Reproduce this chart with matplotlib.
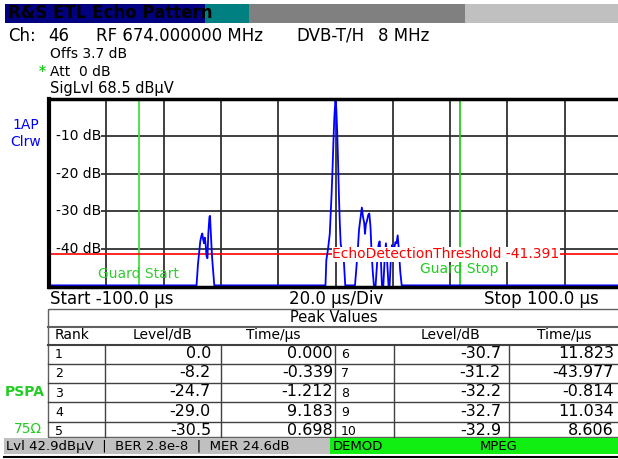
"""R&S ETL echo pattern screen, redrawn with matplotlib."""

import matplotlib
matplotlib.use("Agg")
import matplotlib.pyplot as plt
from matplotlib.patches import Rectangle

# trace (time in us, level in dB)
TIME_US = [
    -100.0, -48.5, -48.0, -47.6, -47.2, -46.8, -46.5, -46.2, -45.9, -45.6,
    -45.3, -45.0, -44.7, -44.4, -44.0, -43.8, -43.5, -43.1, -42.7, -42.3,
    -3.5, -3.2, -2.9, -2.6, -2.3, -2.0, -1.7, -1.4, -1.0, -0.7,
    -0.4, 0.0, 0.3, 0.6, 0.9, 1.2, 1.5, 1.8, 2.1, 2.5,
    2.9, 3.4, 6.8, 7.3, 7.8, 8.2, 8.6, 9.2, 9.6, 10.0,
    10.3, 10.6, 11.0, 11.4, 11.8, 12.2, 12.6, 13.0, 13.4, 14.0,
    14.5, 15.0, 15.4, 15.8, 16.2, 16.7, 17.2, 17.6, 18.0, 18.5,
    18.9, 19.3, 19.7, 20.0, 20.4, 20.9, 21.3, 21.7, 22.1, 22.6,
    23.1, 100.0,
]
LEVEL_DB = [
    -49.7, -49.7, -44.0, -41.0, -38.0, -36.5, -35.9, -37.5, -38.5, -37.0,
    -39.0, -42.0, -42.5, -36.0, -31.5, -31.2, -36.0, -42.0, -46.0, -49.7,
    -49.7, -43.0, -41.5, -40.0, -38.0, -36.0, -31.0, -26.0, -18.0, -11.0,
    -5.0, 0.0, -3.0, -9.0, -17.0, -26.0, -33.0, -38.5, -40.0, -40.5,
    -43.0, -49.7, -49.7, -45.0, -40.0, -35.0, -32.5, -29.0, -31.5, -33.0,
    -36.0, -33.5, -32.5, -31.0, -30.6, -34.0, -41.0, -46.0, -49.7, -49.7,
    -44.0, -39.0, -38.0, -42.0, -49.7, -49.7, -42.0, -38.5, -43.0, -49.7,
    -49.7, -43.0, -39.0, -40.0, -40.4, -38.2, -38.5, -36.4, -40.0, -46.0,
    -49.7, -49.7,
]

Y_TICKS = [-10, -20, -30, -40]
GUARD_START_US = -68.6
GUARD_STOP_US = 43.3
THRESHOLD_DB = -41.391

PEAK_RANK = [1, 2, 3, 4, 5, 6, 7, 8, 9, 10]
PEAK_LEVEL_DB = [0.0, -8.2, -24.7, -29.0, -30.5, -30.7, -31.2, -32.2, -32.7, -32.9]
PEAK_TIME_US = [0.000, -0.339, -1.212, 9.183, 0.698, 11.823, -43.977, -0.814, 11.034, 8.606]

W, H = 618, 459
NAVY = "#000080"
TEAL = "#008080"
BLUE = "#0000ff"
RED = "#ff0000"
GREEN = "#22cc22"
GRID = "#303030"

fig = plt.figure(figsize=(W / 100, H / 100), dpi=100)

# screen axes in pixel units for the instrument chrome
scr = fig.add_axes([0, 0, 1, 1], zorder=0)
scr.set_xlim(0, W)
scr.set_ylim(H, 0)
scr.axis("off")

# title bar
for x0, x1, c in ((5, 205, NAVY), (205, 249, TEAL), (249, 465, "#808080"), (465, W, "#c0c0c0")):
    scr.add_patch(Rectangle((x0, 4), x1 - x0, 18.5, color=c, lw=0))
scr.text(8, 13.5, "R&S ETL Echo Pattern", fontsize=12, fontweight="bold", va="center")

# channel line, each piece centred where the screen has it
for x, s in ((22, "Ch:"), (59, "46"), (180, "RF 674.000000 MHz"), (330, "DVB-T/H"), (404, "8 MHz")):
    scr.text(x, 36, s, fontsize=12, ha="center", va="center")
scr.text(50, 54, "Offs 3.7 dB", fontsize=10, va="center")
scr.text(39, 71, "*", fontsize=10, color=GREEN, fontweight="bold", va="center")
scr.text(50, 72, "Att  0 dB", fontsize=10, va="center")
scr.text(50, 89, "SigLvl 68.5 dB\u00b5V", fontsize=10.5, va="center")
scr.text(26, 125, "1AP", fontsize=10, color=BLUE, ha="center", va="center")
scr.text(26, 142, "Clrw", fontsize=10, color=BLUE, ha="center", va="center")

# x-scale line
scr.text(50, 299, "Start -100.0 \u00b5s", fontsize=12, va="center")
scr.text(336, 299, "20.0 \u00b5s/Div", fontsize=12, ha="center", va="center")
scr.text(484, 299, "Stop 100.0 \u00b5s", fontsize=12, va="center")

# peak table
tab_l, tab_r, tab_t, tab_b = 48, W + 5, 309, 437
scr.add_patch(Rectangle((tab_l, tab_t), tab_r - tab_l, tab_b - tab_t, fill=False, ec="#606060", lw=1))
scr.plot([tab_l, tab_r], [326.5, 326.5], color="#606060", lw=1.5)
scr.plot([tab_l, tab_r], [344.5, 344.5], color="#404040", lw=1.5)
scr.text(334, 318, "Peak Values", fontsize=10.5, ha="center", va="center")
for x, label, ha in ((55, "Rank", "left"), (163, "Level/dB", "center"), (273, "Time/\u00b5s", "center"),
                     (450, "Level/dB", "center"), (564, "Time/\u00b5s", "center")):
    scr.text(x, 335, label, fontsize=10, ha=ha, va="center")
row_h = 19.3
for k in range(1, 5):
    y = 344.5 + k * row_h
    scr.plot([tab_l, tab_r], [y, y], color="#404040", lw=1)
for x in (105, 220.5, 335, 393.5, 508.5):
    scr.plot([x, x], [344.5, tab_b], color="#404040", lw=1)
for i, (rank, lvl, t) in enumerate(zip(PEAK_RANK, PEAK_LEVEL_DB, PEAK_TIME_US)):
    half = i // 5
    y = 344.5 + (i % 5 + 0.45) * row_h
    rank_x, lvl_x, time_x = ((55, 211, 333) if half == 0 else (341, 501, 614))
    scr.text(rank_x, y + 1.5, str(rank), fontsize=9, ha="left", va="center")
    scr.text(lvl_x, y, f"{lvl:.1f}", fontsize=11.5, ha="right", va="center")
    scr.text(time_x, y, f"{t:.3f}", fontsize=11.5, ha="right", va="center")

scr.text(45, 392, "PSPA", fontsize=10, color=GREEN, fontweight="bold", ha="right", va="center")
scr.text(42, 429, "75\u03a9", fontsize=10, color=GREEN, ha="right", va="center")

# status bar
scr.add_patch(Rectangle((4, 437.5), 326, 16, color="#c0c0c0", lw=0))
scr.add_patch(Rectangle((330, 437.5), W - 330, 16, color="#11ee11", lw=0))
scr.plot([4, W], [456.5, 456.5], color="black", lw=1.5)
scr.text(6, 446.5, "Lvl 42.9dB\u00b5V  |  BER 2.8e-8  |  MER 24.6dB", fontsize=9.5, va="center")
scr.text(333, 446.5, "DEMOD", fontsize=9.5, va="center")
scr.text(480, 446.5, "MPEG", fontsize=9.5, va="center")

# echo trace axes
left, right, top, bottom = 49, 622, 98.5, 286.5
ax = fig.add_axes([left / W, 1 - bottom / H, (right - left) / W, (bottom - top) / H], zorder=1)
ax.set_xlim(-100, 100)
ax.set_ylim(-50, 0)
ax.set_xticks(range(-80, 101, 20))
ax.set_yticks(Y_TICKS)
ax.tick_params(length=0, labelbottom=False, labelleft=False)
ax.grid(True, color=GRID, lw=1.3)
for side, lw in (("left", 3), ("top", 2.5), ("bottom", 2.5)):
    ax.spines[side].set_linewidth(lw)
ax.spines["right"].set_visible(False)

for level in Y_TICKS:
    ax.add_patch(Rectangle((-100, level - 1.2), 18.0, 2.4, color="white", lw=0, zorder=2))
    ax.text(-81.8, level, f"{level} dB", fontsize=10, ha="right", va="center", zorder=3)

ax.axvline(GUARD_START_US, color="#44dd44", lw=1.3)
ax.axvline(GUARD_STOP_US, color="#22cc22", lw=1.3)
ax.axhline(THRESHOLD_DB, color=RED, lw=1.2)
ax.plot(TIME_US, LEVEL_DB, color=BLUE, lw=1.3)
ax.text(38.6, THRESHOLD_DB, f"EchoDetectionThreshold {THRESHOLD_DB}", fontsize=10, color=RED,
        ha="center", va="center", bbox=dict(fc="white", ec="none", pad=0.3))
ax.text(GUARD_START_US, -46.8, "Guard Start", fontsize=10, color="#33cc33", ha="center", va="center")
ax.text(GUARD_STOP_US, -45.3, "Guard Stop", fontsize=10, color="#22cc22", ha="center", va="center")

fig.savefig("out.png", dpi=100)
plt.close(fig)
